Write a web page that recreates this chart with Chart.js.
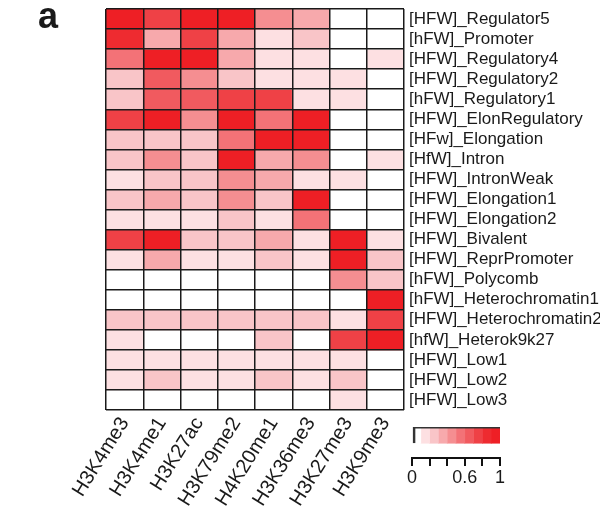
<!DOCTYPE html>
<html>
<head>
<meta charset="utf-8">
<script src="https://cdn.jsdelivr.net/npm/chart.js@4/dist/chart.umd.min.js"></script>
<style>
  body { margin: 0; background: #fff; }
  #wrap { position: relative; width: 600px; height: 514px; }
  #heat { position: absolute; left: 0; top: 0; }
  #key { position: absolute; left: 400px; top: 415px; }
</style>
</head>
<body>
<div id="wrap">
  <canvas id="heat" width="600" height="514"></canvas>
  <canvas id="key" width="130" height="74"></canvas>
</div>
<script>
// histone marks (columns)
var marks = ['H3K4me3', 'H3K4me1', 'H3K27ac', 'H3K79me2', 'H4K20me1', 'H3K36me3', 'H3K27me3', 'H3K9me3'];

// chromatin states (rows, top to bottom)
var states = [
  '[HFW]_Regulator5', '[hFW]_Promoter', '[HFW]_Regulatory4', '[HFW]_Regulatory2',
  '[hFW]_Regulatory1', '[HFW]_ElonRegulatory', '[HFw]_Elongation', '[HfW]_Intron',
  '[HFW]_IntronWeak', '[HFW]_Elongation1', '[HFW]_Elongation2', '[HFW]_Bivalent',
  '[HFW]_ReprPromoter', '[hFW]_Polycomb', '[hFW]_Heterochromatin1', '[HFW]_Heterochromatin2',
  '[hfW]_Heterok9k27', '[HFW]_Low1', '[HFW]_Low2', '[HFW]_Low3'
];

// emission probability of each mark in each state
var enrichment = [
  [0.97, 0.76, 0.98, 0.95, 0.44, 0.36, 0.02, 0.04],
  [0.88, 0.35, 0.77, 0.34, 0.14, 0.26, 0.03, 0.05],
  [0.56, 0.96, 0.99, 0.36, 0.16, 0.15, 0.04, 0.13],
  [0.25, 0.66, 0.46, 0.27, 0.14, 0.15, 0.12, 0.06],
  [0.24, 0.65, 0.67, 0.75, 0.74, 0.14, 0.12, 0.05],
  [0.76, 0.96, 0.45, 0.97, 0.55, 0.98, 0.03, 0.04],
  [0.26, 0.25, 0.24, 0.57, 0.99, 0.95, 0.02, 0.03],
  [0.24, 0.46, 0.25, 0.96, 0.35, 0.45, 0.04, 0.13],
  [0.15, 0.26, 0.25, 0.45, 0.36, 0.14, 0.12, 0.05],
  [0.26, 0.35, 0.24, 0.46, 0.25, 0.97, 0.04, 0.03],
  [0.14, 0.15, 0.14, 0.26, 0.15, 0.56, 0.03, 0.04],
  [0.76, 0.95, 0.25, 0.26, 0.35, 0.14, 0.97, 0.13],
  [0.15, 0.36, 0.14, 0.15, 0.25, 0.14, 0.98, 0.26],
  [0.05, 0.04, 0.03, 0.04, 0.05, 0.06, 0.45, 0.27],
  [0.03, 0.02, 0.02, 0.03, 0.04, 0.04, 0.06, 0.96],
  [0.25, 0.26, 0.24, 0.25, 0.26, 0.25, 0.14, 0.77],
  [0.15, 0.05, 0.04, 0.05, 0.24, 0.06, 0.75, 0.97],
  [0.14, 0.14, 0.13, 0.14, 0.15, 0.14, 0.13, 0.05],
  [0.15, 0.24, 0.14, 0.15, 0.25, 0.15, 0.24, 0.04],
  [0.03, 0.02, 0.03, 0.03, 0.04, 0.04, 0.13, 0.03]
];

// 10 colour bins from white to red, 0..1
var binColors = ['#ffffff', '#fde0e2', '#f9c5c8', '#f7a9ac', '#f58e91', '#f37277', '#f15a5f', '#ef4146', '#ee2b30', '#ee1f25'];
var keyTicks = [0, 0.2, 0.4, 0.6, 0.8, 1];
var keyTickLabels = ['0', '', '', '0.6', '', '1'];

var FONT = '"Liberation Sans", Arial, sans-serif';

function colorFor(v) {
  var bin = Math.min(binColors.length - 1, Math.floor(v * binColors.length));
  return binColors[bin];
}

// one floating-bar dataset per row, spanning [row, row+1] on the y scale
var rowSets = [];
for (var r = 0; r < states.length; r++) {
  var spans = [];
  for (var c = 0; c < marks.length; c++) {
    spans.push([r, r + 1]);
  }
  rowSets.push({
    label: states[r],
    data: spans,
    backgroundColor: enrichment[r].map(colorFor),
    borderWidth: 0,
    grouped: false,
    barPercentage: 1,
    categoryPercentage: 1
  });
}

// panel letter
var panelLetter = {
  id: 'panelLetter',
  afterDraw: function (chart) {
    var ctx = chart.ctx;
    ctx.save();
    ctx.fillStyle = '#1a1a1a';
    ctx.font = 'bold 36px ' + FONT;
    ctx.textBaseline = 'alphabetic';
    ctx.fillText('a', 38, 28);
    ctx.restore();
  }
};

new Chart(document.getElementById('heat'), {
  type: 'bar',
  data: { labels: marks, datasets: rowSets },
  options: {
    responsive: false,
    animation: false,
    devicePixelRatio: 1,
    layout: { padding: { left: 106, top: 9, right: 0, bottom: 0 } },
    plugins: { legend: { display: false }, tooltip: { enabled: false } },
    scales: {
      x: {
        type: 'category',
        offset: true,
        grid: { offset: true, z: 1, color: '#1a1a1a', lineWidth: 1.5, drawTicks: false },
        border: { display: false },
        ticks: {
          autoSkip: false,
          minRotation: 58,
          maxRotation: 58,
          padding: 3,
          color: '#1a1a1a',
          font: { family: FONT, size: 20 }
        },
        afterFit: function (axis) {
          axis.height = 104;
          axis.paddingLeft = 0;
          axis.paddingRight = 0;
        }
      },
      y: {
        type: 'linear',
        position: 'right',
        min: 0,
        max: states.length,
        reverse: true,
        grid: { offset: true, z: 1, color: '#1a1a1a', lineWidth: 1.5, drawTicks: false },
        border: { display: false },
        afterBuildTicks: function (axis) {
          axis.ticks = states.map(function (s, i) { return { value: i + 0.5 }; });
        },
        ticks: {
          autoSkip: false,
          padding: 5,
          color: '#1a1a1a',
          font: { family: FONT, size: 17 },
          callback: function (v, i) { return states[i]; }
        },
        afterFit: function (axis) {
          axis.width = 196;
          axis.paddingTop = 0;
          axis.paddingBottom = 0;
        }
      }
    }
  },
  plugins: [panelLetter]
});

// colour key: outline first so it is drawn on top, then one floating bar per bin
var keySets = [{
  data: [[0, 1], null],
  backgroundColor: 'rgba(0,0,0,0)',
  borderColor: '#333',
  borderWidth: { top: 2, left: 2, right: 0, bottom: 0 },
  borderSkipped: false,
  grouped: false,
  barThickness: 17
}];
binColors.forEach(function (col, i) {
  keySets.push({
    data: [[i / binColors.length, (i + 1) / binColors.length], null],
    backgroundColor: col,
    borderWidth: 0,
    grouped: false,
    barThickness: 17
  });
});

new Chart(document.getElementById('key'), {
  type: 'bar',
  data: { labels: ['', ''], datasets: keySets },
  options: {
    indexAxis: 'y',
    responsive: false,
    animation: false,
    devicePixelRatio: 1,
    layout: { padding: { left: 12, right: 30, top: 12, bottom: 0 } },
    plugins: { legend: { display: false }, tooltip: { enabled: false } },
    scales: {
      y: { type: 'category', display: false },
      x: {
        type: 'linear',
        min: 0,
        max: 1,
        afterBuildTicks: function (axis) {
          axis.ticks = keyTicks.map(function (t) { return { value: t }; });
        },
        grid: { drawOnChartArea: false, drawTicks: true, tickLength: 8, color: '#111', lineWidth: 2 },
        border: { display: true, color: '#111', width: 2 },
        ticks: {
          autoSkip: false,
          padding: 1,
          color: '#1a1a1a',
          maxRotation: 0,
          font: { family: FONT, size: 18 },
          callback: function (v, i) { return keyTickLabels[i]; }
        }
      }
    }
  }
});
</script>
</body>
</html>
